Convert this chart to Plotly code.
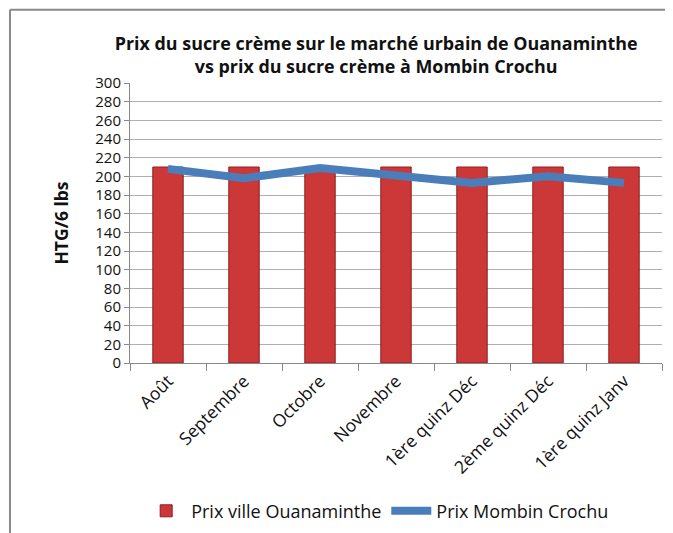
import plotly.graph_objects as go

categories = ['Août', 'Septembre', 'Octobre', 'Novembre',
              '1ère quinz Déc', '2ème quinz Déc', '1ère quinz Janv']
prix_ouanaminthe = [210, 210, 210, 210, 210, 210, 210]
prix_mombin = [208, 198, 209, 202, 193, 200, 193]

font_name = 'Open Sans'

fig = go.Figure()

# bars for the urban market price
fig.add_trace(go.Bar(
    x=categories, y=prix_ouanaminthe, name='Prix ville Ouanaminthe',
    marker=dict(color='#CC3838', line=dict(color='#8E1E1E', width=1)),
))

# line for the Mombin Crochu price
fig.add_trace(go.Scatter(
    x=categories, y=prix_mombin, name='Prix Mombin Crochu',
    mode='lines', line=dict(color='#4A7EBB', width=8),
))

# the page body adds ~8px, so margins are shifted accordingly
fig.update_layout(
    width=673, height=533,
    margin=dict(l=122, r=19, t=75, b=178, autoexpand=False),
    paper_bgcolor='white', plot_bgcolor='white',
    font=dict(family=font_name, color='#111', size=16),
    bargap=0.6,
    showlegend=True,
    title=dict(
        text='<b>Prix du sucre crème sur le marché urbain de Ouanaminthe<br>vs prix du sucre crème à Mombin Crochu</b>',
        x=0.547, xanchor='center', y=0.922, yanchor='middle',
        font=dict(size=17.9, family=font_name, color='#111'),
    ),
    legend=dict(
        orientation='h', x=0.021, xanchor='left', y=-0.529, yanchor='middle',
        font=dict(size=18), itemwidth=40, tracegroupgap=0,
    ),
    shapes=[
        dict(type='line', xref='paper', yref='paper',
             x0=-0.2256, x1=1.1, y0=1.262, y1=1.262,
             line=dict(color='#8a8a8a', width=2)),
        dict(type='line', xref='paper', yref='paper',
             x0=-0.2256, x1=-0.2256, y0=1.262, y1=-0.7,
             line=dict(color='#8a8a8a', width=2)),
    ],
)

fig.update_yaxes(
    range=[0, 300], dtick=20, showgrid=True, gridcolor='#b0b0b0',
    showline=True, linecolor='#888', ticks='outside', ticklen=5,
    tickcolor='#888', tickfont=dict(size=15), automargin=False,
    title=dict(text='<b>HTG/6 lbs</b>', font=dict(size=17.5), standoff=22),
)
fig.update_xaxes(
    showline=True, linecolor='#888', ticks='outside', ticklen=7,
    tickcolor='#888', tickson='boundaries', tickangle=-45,
    tickfont=dict(size=17.5), automargin=False,
)

fig.write_html('out.html')
